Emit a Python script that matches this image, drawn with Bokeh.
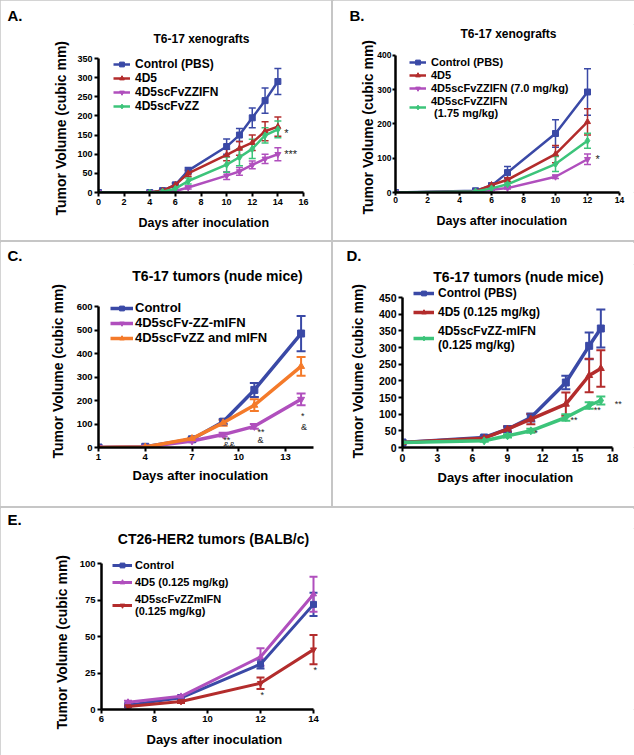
from bokeh.plotting import figure
from bokeh.models import (Range1d, ColumnDataSource, Whisker, TeeHead, Legend, LegendItem,
                          Label, LabelSet, FixedTicker, Spacer, Title)
from bokeh.layouts import column, row
from bokeh.core.properties import value
from bokeh.embed import file_html
from bokeh.resources import INLINE

FONT = "Liberation Sans"
BLUE = "#3a49a6"
RED = "#b32c2c"
MAG = "#b04fbd"
GREEN = "#3cc47a"
ORANGE = "#f47a2a"
DIV = "#c6c6c6"

XLABEL = "Days after inoculation"
YLABEL = "Tumor Volume (cubic mm)"

# ---------------- Panel A data ----------------
a_days = [0, 4, 5, 6, 7, 10, 11, 12, 13, 14]
a_ctrl = [0, 0, 5, 20, 57, 120, 150, 195, 240, 290]
a_ctrl_err = [0, 0, 2, 5, 8, 20, 17, 26, 33, 34]
a_4d5 = [0, 0, 5, 20, 50, 98, 115, 130, 160, 172]
a_4d5_err = [0, 0, 2, 5, 8, 15, 18, 20, 25, 25]
a_ifn = [0, 0, 1, 4, 13, 44, 55, 72, 88, 100]
a_ifn_err = [0, 0, 1, 2, 4, 10, 10, 10, 12, 17]
a_zz = [0, 0, 2, 10, 30, 73, 92, 114, 149, 165]
a_zz_err = [0, 0, 2, 4, 8, 20, 22, 25, 20, 22]
a_xticks = [0, 2, 4, 6, 8, 10, 12, 14, 16]
a_yticks = [0, 50, 100, 150, 200, 250, 300, 350]
a_star_text = ["*", "***"]
a_star_x = [14.5, 14.5]
a_star_y = [155, 100]

# ---------------- Panel B data ----------------
b_days = [0, 5, 6, 7, 10, 12]
b_ctrl = [0, 5, 20, 58, 172, 293]
b_ctrl_err = [0, 2, 5, 18, 40, 68]
b_4d5 = [0, 3, 22, 37, 112, 206]
b_4d5_err = [0, 1, 5, 6, 25, 38]
b_hi = [0, 2, 8, 13, 46, 97]
b_hi_err = [0, 1, 2, 3, 5, 15]
b_lo = [0, 3, 12, 24, 83, 151]
b_lo_err = [0, 1, 3, 4, 22, 22]
b_xticks = [0, 2, 4, 6, 8, 10, 12, 14]
b_yticks = [0, 100, 200, 300, 400]
b_star_text = ["*"]
b_star_x = [12.5]
b_star_y = [98]

# ---------------- Panel C data ----------------
c_days = [1, 4, 7, 9, 11, 14]
c_ctrl = [0, 3, 35, 110, 245, 485]
c_ctrl_err = [0, 1, 5, 10, 30, 75]
c_fused = [0, 2, 28, 55, 90, 205]
c_fused_err = [0, 1, 4, 8, 10, 25]
c_combo = [0, 2, 38, 105, 180, 345]
c_combo_err = [0, 1, 5, 12, 25, 40]
c_xticks = [1, 4, 7, 10, 13]
c_yticks = [0, 100, 200, 300, 400, 500, 600]
c_star_text = ["**", "&&", "**", "&", "*", "&"]
c_star_x = [9, 9, 11.2, 11.2, 14, 14]
c_star_y = [30, 12, 64, 34, 136, 89]

# ---------------- Panel D data ----------------
d_days = [0, 7, 9, 11, 14, 16, 17]
d_ctrl = [15, 30, 55, 90, 195, 305, 357]
d_ctrl_err = [2, 4, 8, 12, 20, 40, 57]
d_4d5 = [15, 28, 55, 85, 130, 216, 237]
d_4d5_err = [2, 4, 8, 15, 35, 50, 55]
d_ifn = [15, 20, 35, 50, 90, 126, 141]
d_ifn_err = [2, 3, 5, 6, 10, 10, 12]
d_xticks = [0, 3, 6, 9, 12, 15, 18]
d_yticks = [0, 50, 100, 150, 200, 250, 300, 350, 400, 450]
d_star_text = ["*", "**", "**", "**"]
d_star_x = [11.3, 14.4, 16.4, 18.2]
d_star_y = [45, 82, 112, 130]

# ---------------- Panel E data ----------------
e_days = [7, 9, 12, 14]
e_ctrl = [3, 8, 31, 72]
e_ctrl_err = [1, 1, 3, 8]
e_4d5 = [5, 9, 36, 79]
e_4d5_err = [1, 1, 6, 12]
e_ifn = [2, 5.5, 18, 41]
e_ifn_err = [0.5, 1, 4, 10]
e_xticks = [6, 8, 10, 12, 14]
e_yticks = [0, 25, 50, 75, 100]
e_star_text = ["*", "*"]
e_star_x = [12, 14]
e_star_y = [10, 27]


def make_panel(W, H, origin, box, ftop, xr, yr, xticks, yticks, tick_fs,
               tick_out=4, lab_stand=2):
    """box = page pixel positions (L, R, T, B) of the axis extents."""
    L, R, T, B = box
    ox, oy = origin
    fl = L - ox
    fb = B - oy
    ppx = (R - L) / (xr[1] - xr[0])
    ppy = (B - T) / (yr[1] - yr[0])
    x_end = xr[0] + (W - fl) / ppx
    y_end = yr[0] + (fb - ftop) / ppy
    p = figure(width=W, height=H, x_range=Range1d(xr[0], x_end),
               y_range=Range1d(yr[0], y_end),
               output_backend="svg", toolbar_location=None, title=None,
               min_border_left=fl, min_border_right=0,
               min_border_top=ftop, min_border_bottom=H - fb)
    p.xgrid.visible = False
    p.ygrid.visible = False
    p.outline_line_color = None
    p.xaxis.ticker = FixedTicker(ticks=xticks)
    p.yaxis.ticker = FixedTicker(ticks=yticks)
    p.xaxis.bounds = (xr[0], xr[1])
    p.yaxis.bounds = (yr[0], yr[1])
    for ax in p.axis:
        ax.axis_line_width = 2.5
        ax.axis_line_color = "black"
        ax.major_tick_line_width = 2
        ax.major_tick_line_color = "black"
        ax.major_tick_out = tick_out
        ax.major_tick_in = 0
        ax.minor_tick_line_color = None
        ax.major_label_text_font = FONT
        ax.major_label_text_font_style = "bold"
        ax.major_label_text_font_size = tick_fs
        ax.major_label_text_color = "black"
        ax.major_label_standoff = lab_stand

    def px(gx, gy):
        return xr[0] + (gx - L) / ppx, yr[0] + (B - gy) / ppy
    return p, px


def axis_titles(p, xoff, xsd, xfs, yoff, ysd, yfs):
    p.add_layout(Title(text=XLABEL, align="left", offset=xoff, standoff=xsd,
                       vertical_align="middle", text_font=FONT, text_font_style="bold",
                       text_font_size=xfs, text_color="black"), "below")
    p.add_layout(Title(text=YLABEL, align="left", offset=yoff, standoff=ysd,
                       vertical_align="middle", text_font=FONT, text_font_style="bold",
                       text_font_size=yfs, text_color="black"), "left")


def add_text(p, px, gx, gy, text, size, align="center"):
    x, y = px(gx, gy)
    p.add_layout(Label(x=x, y=y, text=text, text_font=FONT, text_font_style="bold",
                       text_font_size=size, text_color="black", text_align=align,
                       text_baseline="middle"))


def add_letter(p, text, offset):
    p.add_layout(Title(text=text, align="left", offset=offset, standoff=0,
                       vertical_align="middle", text_font=FONT,
                       text_font_style="bold", text_font_size="15px",
                       text_color="black"), "above")


def series(p, days, vals, errs, color, marker, lw, msize, wlw, head):
    src = ColumnDataSource(dict(x=days, y=vals))
    ln = p.line("x", "y", source=src, line_color=color, line_width=lw)
    sc = p.scatter("x", "y", source=src, marker=marker, size=msize,
                   fill_color=color, line_color=color)
    wx = [d for d, e in zip(days, errs) if e > 0]
    wu = [v + e for v, e in zip(vals, errs) if e > 0]
    wl = [v - e for v, e in zip(vals, errs) if e > 0]
    wsrc = ColumnDataSource(dict(x=wx, upper=wu, lower=wl))
    p.add_layout(Whisker(base="x", upper="upper", lower="lower", source=wsrc,
                         line_color=color, line_width=wlw,
                         upper_head=TeeHead(size=head, line_color=color, line_width=wlw),
                         lower_head=TeeHead(size=head, line_color=color, line_width=wlw)))
    return [ln, sc]


def add_legend(p, items, loc, fs, gw, standoff, spacing):
    lg = Legend(items=[LegendItem(label=t, renderers=r) for t, r in items],
                location=loc, label_text_font=FONT, label_text_font_style="bold",
                label_text_font_size=fs, label_text_color="black",
                glyph_width=gw, glyph_height=12, label_height=12,
                label_standoff=standoff, spacing=spacing, padding=0, margin=0,
                border_line_color=None, background_fill_alpha=0)
    p.add_layout(lg)


def add_stars(p, xs, ys, texts, size):
    src = ColumnDataSource(dict(x=xs, y=ys, t=texts))
    p.add_layout(LabelSet(x="x", y="y", text="t", source=src, text_font=value(FONT),
                          text_font_size=size, text_color="#222222",
                          text_align="left", text_baseline="middle"))


# ---------------- Panel A ----------------
pA, pxA = make_panel(331, 240, (0, 0), (98, 303, 58, 192), 24, (0, 16), (0, 350),
                     a_xticks, a_yticks, "9px")
rA = [series(pA, a_days, a_ctrl, a_ctrl_err, BLUE, "square", 2.5, 6, 1.5, 7),
      series(pA, a_days, a_4d5, a_4d5_err, RED, "triangle", 2.5, 6, 1.5, 7),
      series(pA, a_days, a_ifn, a_ifn_err, MAG, "inverted_triangle", 2.5, 6, 1.5, 7),
      series(pA, a_days, a_zz, a_zz_err, GREEN, "diamond", 2.5, 7, 1.5, 7)]
add_legend(pA, list(zip(["Control (PBS)", "4D5", "4D5scFvZZIFN", "4D5scFvZZ"], rA)),
           (15, 79), "12px", 17, 5, 0)
add_stars(pA, a_star_x, a_star_y, a_star_text, "11px")
add_letter(pA, "A.", 7 - 98)
add_text(pA, pxA, 201, 38, "T6-17 xenografts", "12px")
axis_titles(pA, 40, 15, "12.5px", -23, 10, "14px")

# ---------------- Panel B ----------------
pB, pxB = make_panel(301, 240, (333, 0), (395, 619, 55, 193), 24, (0, 14), (0, 400),
                     b_xticks, b_yticks, "8.5px", tick_out=3, lab_stand=1)
rB = [series(pB, b_days, b_ctrl, b_ctrl_err, BLUE, "square", 2.5, 6, 1.5, 7),
      series(pB, b_days, b_4d5, b_4d5_err, RED, "triangle", 2.5, 6, 1.5, 7),
      series(pB, b_days, b_hi, b_hi_err, MAG, "inverted_triangle", 2.5, 6, 1.5, 7),
      series(pB, b_days, b_lo, b_lo_err, GREEN, "diamond", 2.5, 7, 1.5, 7)]
add_legend(pB, list(zip(["Control (PBS)", "4D5", "4D5scFvZZIFN (7.0 mg/kg)",
                         "4D5scFvZZIFN\n (1.75 mg/kg)"], rB)),
           (14, 73), "11px", 17, 5, 1)
add_stars(pB, b_star_x, b_star_y, b_star_text, "11px")
add_letter(pB, "B.", 349 - 395)
add_text(pB, pxB, 508, 34, "T6-17 xenografts", "12px")
axis_titles(pB, 41, 15, "12.5px", -22, -4, "14px")

# ---------------- Panel C ----------------
pC, pxC = make_panel(331, 264, (0, 242), (98, 285, 306, 447), 22, (1, 13), (0, 600),
                     c_xticks, c_yticks, "9.5px")
rC = [series(pC, c_days, c_ctrl, c_ctrl_err, BLUE, "square", 3.5, 7, 2, 9),
      series(pC, c_days, c_fused, c_fused_err, MAG, "inverted_triangle", 3.5, 7, 2, 9),
      series(pC, c_days, c_combo, c_combo_err, ORANGE, "triangle", 3.5, 7, 2, 9)]
pC.xaxis.bounds = (1, 14.8)
add_legend(pC, list(zip(["Control", "4D5scFv-ZZ-mIFN", "4D5scFvZZ and mIFN"], rC)),
           (12, 102), "13px", 23, 2, 0)
add_stars(pC, c_star_x, c_star_y, c_star_text, "9px")
add_letter(pC, "C.", 7 - 98)
add_text(pC, pxC, 217, 275, "T6-17 tumors (nude mice)", "14px")
axis_titles(pC, 34, 9, "13px", -11, 14, "14px")

# ---------------- Panel D ----------------
pD, pxD = make_panel(301, 264, (333, 242), (402, 612, 297, 447), 22, (0, 18), (0, 450),
                     d_xticks, d_yticks, "10.5px")
rD = [series(pD, d_days, d_ctrl, d_ctrl_err, BLUE, "square", 3.5, 7, 2, 9),
      series(pD, d_days, d_4d5, d_4d5_err, RED, "triangle", 3.5, 7, 2, 9),
      series(pD, d_days, d_ifn, d_ifn_err, GREEN, "diamond", 3.5, 8, 2, 9)]
add_legend(pD, list(zip(["Control (PBS)", "4D5 (0.125 mg/kg)",
                         "4D5scFvZZ-mIFN\n(0.125 mg/kg)"], rD)),
           (11, 95), "12px", 21, 4, 5)
add_stars(pD, d_star_x, d_star_y, d_star_text, "9px")
add_letter(pD, "D.", 346 - 402)
add_text(pD, pxD, 518, 276, "T6-17 tumors (nude mice)", "14px")
axis_titles(pD, 35, 8, "13px", -11, 17, "14px")

# ---------------- Panel E ----------------
pE, pxE = make_panel(634, 247, (0, 508), (101, 313, 563, 709), 20, (6, 14), (0, 100),
                     e_xticks, e_yticks, "9.5px")
rE = [series(pE, e_days, e_ctrl, e_ctrl_err, BLUE, "square", 3, 6, 2, 8),
      series(pE, e_days, e_4d5, e_4d5_err, MAG, "triangle", 3, 6, 2, 8),
      series(pE, e_days, e_ifn, e_ifn_err, RED, "inverted_triangle", 3, 6, 2, 8)]
add_legend(pE, list(zip(["Control", "4D5 (0.125 mg/kg)",
                         "4D5scFvZZmIFN\n(0.125 mg/kg)"], rE)),
           (11, 92), "11px", 20, 3, 5)
add_stars(pE, e_star_x, e_star_y, e_star_text, "9px")
add_letter(pE, "E.", 7 - 101)
add_text(pE, pxE, 213, 538, "CT26-HER2 tumors (BALB/c)", "14px")
axis_titles(pE, 45, 13, "13px", -20, 12, "14px")

vd1 = Spacer(width=2, height=240, styles={"background-color": DIV})
vd2 = Spacer(width=2, height=264, styles={"background-color": DIV})
hd1 = Spacer(width=634, height=2, styles={"background-color": DIV})
hd2 = Spacer(width=634, height=2, styles={"background-color": DIV})

layout = column(row(pA, vd1, pB), hd1, row(pC, vd2, pD), hd2, pE,
                styles={"outline": "1px solid #c6c6c6", "outline-offset": "-1px"})

open("out.html", "w").write(file_html(layout, INLINE))
